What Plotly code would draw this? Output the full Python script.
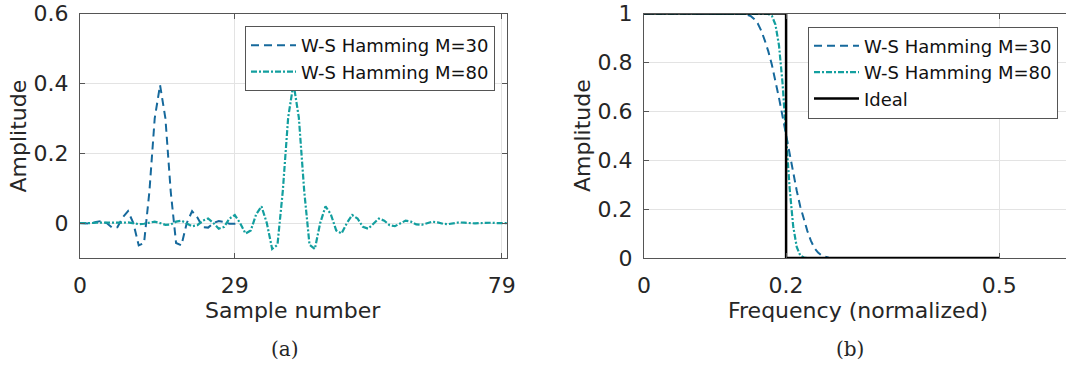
import plotly.graph_objects as go

# Impulse responses of the windowed-sinc (Hamming) low-pass filters
n_m30 = list(range(31))
h_m30 = [0.0, -0.002, -0.002, 0.003, 0.006, 0.0, -0.013, -0.012, 0.016, 0.034,
         0.0, -0.064, -0.057, 0.090, 0.300, 0.395, 0.300, 0.090, -0.057, -0.064,
         0.0, 0.034, 0.016, -0.012, -0.013, 0.0, 0.006, 0.003, -0.002, -0.002, 0.0]

n_m80 = list(range(81))
h_m80 = [0.0, -0.001, 0.0, 0.001, 0.001, 0.0, -0.001, -0.001, 0.001, 0.002,
         0.0, -0.003, -0.002, 0.002, 0.004, 0.0, -0.005, -0.004, 0.004, 0.007,
         0.0, -0.009, -0.006, 0.007, 0.013, 0.0, -0.016, -0.011, 0.013, 0.023,
         0.0, -0.030, -0.021, 0.025, 0.048, 0.0, -0.074, -0.062, 0.093, 0.302,
         0.400,
         0.302, 0.093, -0.062, -0.074, 0.0, 0.048, 0.025, -0.021, -0.030, 0.0,
         0.023, 0.013, -0.011, -0.016, 0.0, 0.013, 0.007, -0.006, -0.009, 0.0,
         0.007, 0.004, -0.004, -0.005, 0.0, 0.004, 0.002, -0.002, -0.003, 0.0,
         0.002, 0.001, -0.001, -0.001, 0.0, 0.001, 0.001, 0.0, -0.001, 0.0]

# Magnitude responses
f_m30 = [0.0, 0.13, 0.14, 0.15, 0.155, 0.16, 0.165, 0.17, 0.175, 0.18, 0.185,
         0.19, 0.195, 0.2, 0.205, 0.21, 0.215, 0.22, 0.225, 0.23, 0.235, 0.24,
         0.245, 0.25, 0.26, 0.27, 0.5]
a_m30 = [1.0, 1.0, 0.999, 0.99, 0.978, 0.96, 0.93, 0.89, 0.845, 0.79, 0.725,
         0.655, 0.58, 0.5, 0.42, 0.345, 0.275, 0.21, 0.155, 0.11, 0.07, 0.04,
         0.022, 0.01, 0.001, 0.0, 0.0]

f_m80 = [0.0, 0.17, 0.175, 0.18, 0.185, 0.19, 0.195, 0.2, 0.205, 0.21, 0.215,
         0.22, 0.225, 0.23, 0.5]
a_m80 = [1.0, 1.0, 0.998, 0.99, 0.955, 0.87, 0.715, 0.5, 0.285, 0.13, 0.045,
         0.01, 0.002, 0.0, 0.0]

f_ideal = [0.0, 0.2, 0.2, 0.5]
a_ideal = [1.0, 1.0, 0.0, 0.0]

imp_ticks = [0, 29, 79]
imp_amp_ticks = [0, 0.2, 0.4, 0.6]
imp_amp_labels = ["0", "0.2", "0.4", "0.6"]
freq_ticks = [0, 0.2, 0.5]
freq_labels = ["0", "0.2", "0.5"]
freq_amp_ticks = [0, 0.2, 0.4, 0.6, 0.8, 1.0]
freq_amp_labels = ["0", "0.2", "0.4", "0.6", "0.8", "1"]

NAME_30 = "W-S Hamming M=30"
NAME_80 = "W-S Hamming M=80"

W, H = 1066, 365
BLUE = "#16699c"
TEAL = "#139f9f"
TXT = "#262626"
AX = "#555555"
GRID = "#e3e3e3"
SANS = "DejaVu Sans"
SERIF = "DejaVu Serif"

DASH_30 = "8px,5px"
DASH_80 = "6px,2px,2px,2px"


def hx(p):
    return p / W


def vy(p):
    return 1 - p / H


fig = go.Figure()

fig.add_trace(go.Scatter(x=n_m30, y=h_m30, mode="lines", name=NAME_30,
                         line=dict(color=BLUE, width=2, dash=DASH_30),
                         xaxis="x", yaxis="y", legend="legend"))
fig.add_trace(go.Scatter(x=n_m80, y=h_m80, mode="lines", name=NAME_80,
                         line=dict(color=TEAL, width=2.2, dash=DASH_80),
                         xaxis="x", yaxis="y", legend="legend"))

fig.add_trace(go.Scatter(x=f_m30, y=a_m30, mode="lines", name=NAME_30,
                         line=dict(color=BLUE, width=2, dash=DASH_30),
                         xaxis="x2", yaxis="y2", legend="legend2"))
fig.add_trace(go.Scatter(x=f_m80, y=a_m80, mode="lines", name=NAME_80,
                         line=dict(color=TEAL, width=2.2, dash=DASH_80),
                         xaxis="x2", yaxis="y2", legend="legend2"))
fig.add_trace(go.Scatter(x=f_ideal, y=a_ideal, mode="lines", name="Ideal",
                         line=dict(color="#000000", width=2.5),
                         xaxis="x2", yaxis="y2", legend="legend2"))

tickfont = dict(family=SANS, size=22, color=TXT)
axis_common = dict(showline=True, linecolor=AX, linewidth=1, ticks="inside",
                   ticklen=5, tickcolor=AX, showgrid=True, gridcolor=GRID,
                   gridwidth=1, zeroline=False, tickfont=tickfont,
                   automargin=False)

top1, bot1 = 13.5, 258

legend_style = dict(xanchor="right", yanchor="top", bgcolor="white",
                    bordercolor=AX, borderwidth=1,
                    font=dict(family=SANS, size=18, color="#111111"),
                    itemwidth=45, tracegroupgap=0)

fig.update_layout(
    width=W, height=H,
    margin=dict(l=0, r=0, t=0, b=0, autoexpand=False),
    paper_bgcolor="white", plot_bgcolor="white",
    font=dict(family=SANS, color=TXT),
    xaxis=dict(domain=[hx(80), hx(507)], range=[0, 80], tickvals=imp_ticks,
               mirror="ticks", anchor="y", ticklabelstandoff=8, **axis_common),
    yaxis=dict(domain=[vy(bot1), vy(top1)], range=[-0.1, 0.6],
               tickvals=imp_amp_ticks, ticktext=imp_amp_labels,
               mirror="ticks", anchor="x", ticklabelstandoff=6, **axis_common),
    xaxis2=dict(domain=[hx(644), 1.0], range=[0, 0.594], tickvals=freq_ticks,
                ticktext=freq_labels, mirror="ticks", anchor="y2",
                ticklabelstandoff=8, **axis_common),
    yaxis2=dict(domain=[vy(bot1), vy(top1)], range=[0, 1],
                tickvals=freq_amp_ticks, ticktext=freq_amp_labels,
                mirror=False, anchor="x2", ticklabelstandoff=6, **axis_common),
    legend=dict(x=hx(495), y=vy(26), **legend_style),
    legend2=dict(x=hx(1058), y=vy(26.5), **legend_style),
    showlegend=True,
)

labels = [
    ("Amplitude", 17.5, 136, -90, SANS, 22),
    ("Sample number", 293, 310, 0, SANS, 22),
    ("(a)", 285, 349, 0, SERIF, 20),
    ("Amplitude", 582, 136, -90, SANS, 22),
    ("Frequency (normalized)", 858, 310, 0, SANS, 22),
    ("(b)", 850, 349, 0, SERIF, 20),
]
for text, px_, py_, ang, fam, sz in labels:
    fig.add_annotation(text=text, x=hx(px_), y=vy(py_), xref="paper",
                       yref="paper", xanchor="center", yanchor="middle",
                       showarrow=False, textangle=ang,
                       font=dict(family=fam, size=sz, color=TXT))

fig.write_html("out.html")
